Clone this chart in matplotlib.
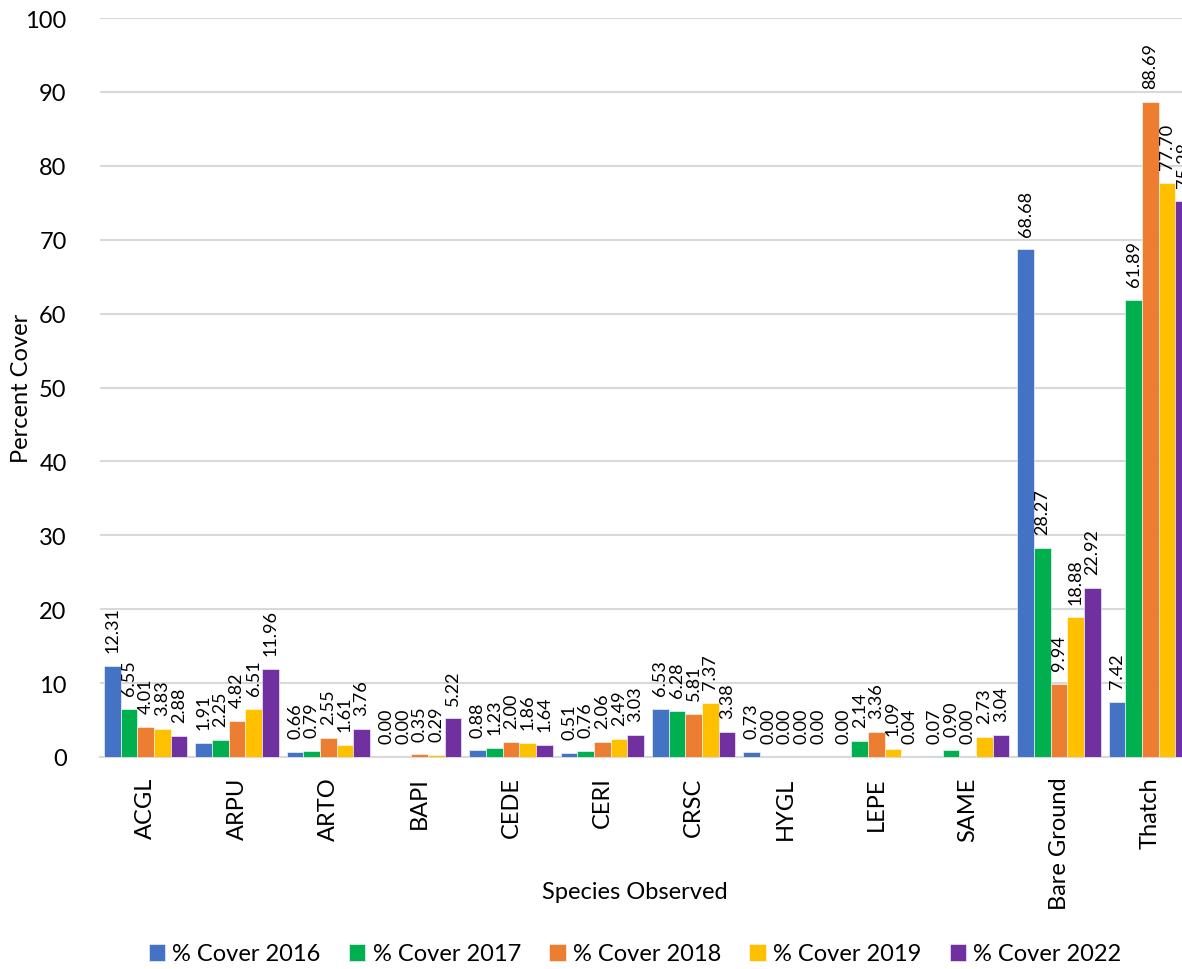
import numpy as np
import matplotlib
matplotlib.use('Agg')
import matplotlib.pyplot as plt

plt.rcParams['font.family'] = ['Lato', 'DejaVu Sans']

species = ['ACGL', 'ARPU', 'ARTO', 'BAPI', 'CEDE', 'CERI', 'CRSC', 'HYGL',
           'LEPE', 'SAME', 'Bare Ground', 'Thatch']
series_names = ['% Cover 2016', '% Cover 2017', '% Cover 2018',
                '% Cover 2019', '% Cover 2022']
cover_2016 = [12.31, 1.91, 0.66, 0.00, 0.88, 0.51, 6.53, 0.73, 0.00, 0.07, 68.68, 7.42]
cover_2017 = [6.55, 2.25, 0.79, 0.00, 1.23, 0.76, 6.28, 0.00, 2.14, 0.90, 28.27, 61.89]
cover_2018 = [4.01, 4.82, 2.55, 0.35, 2.00, 2.06, 5.81, 0.00, 3.36, 0.00, 9.94, 88.69]
cover_2019 = [3.83, 6.51, 1.61, 0.29, 1.86, 2.49, 7.37, 0.00, 1.09, 2.73, 18.88, 77.70]
cover_2022 = [2.88, 11.96, 3.76, 5.22, 1.64, 3.03, 3.38, 0.00, 0.04, 3.04, 22.92, 75.28]
colors = ['#4472C4', '#00B050', '#ED7D31', '#FFC000', '#7030A0']

all_series = [cover_2016, cover_2017, cover_2018, cover_2019, cover_2022]

W, H = 1182, 970
fig = plt.figure(figsize=(W / 100, H / 100), dpi=100)
# plot area runs past the right edge, like the cropped original
ax = fig.add_axes([100 / W, 212 / H, 1096 / W, 739 / H])

x = np.arange(len(species))
w = 0.182
for i, (vals, name, c) in enumerate(zip(all_series, series_names, colors)):
    pos = x + (i - 2) * w
    bars = ax.bar(pos, vals, width=w, color=c, label=name, zorder=3,
                  edgecolor='white', linewidth=0.4)
    for xp, v in zip(pos, vals):
        ax.annotate(f'{v:.2f}', (xp, v), xytext=(0, 10), textcoords='offset points',
                    rotation=90, ha='center', va='bottom', fontsize=13,
                    color='black', annotation_clip=False)

ax.set_xlim(-0.5, len(species) - 0.5)
ax.set_ylim(0, 100)
ax.set_yticks(range(0, 101, 10))
ax.tick_params(axis='y', length=0, labelsize=17, pad=24)
ax.set_xticks(x)
ax.set_xticklabels(species, rotation=90, fontsize=17)
ax.tick_params(axis='x', length=0, pad=14)
ax.grid(axis='y', color='#d9d9d9', linewidth=1.5, zorder=0)
for s in ['left', 'right', 'top']:
    ax.spines[s].set_visible(False)
ax.spines['bottom'].set_color('#d9d9d9')
ax.spines['bottom'].set_linewidth(1.5)

fig.text(22 / W, 1 - 388 / H, 'Percent Cover', rotation=90, ha='center',
         va='center', fontsize=17)
fig.text(635 / W, 1 - 893 / H, 'Species Observed', ha='center', va='center',
         fontsize=17)

fig.legend(loc='center', bbox_to_anchor=(635 / W, 1 - 955 / H), ncol=5,
           frameon=False, fontsize=17, handlelength=0.7, handleheight=0.7,
           handletextpad=0.3, columnspacing=1.2)

fig.savefig('out.png', dpi=100)
